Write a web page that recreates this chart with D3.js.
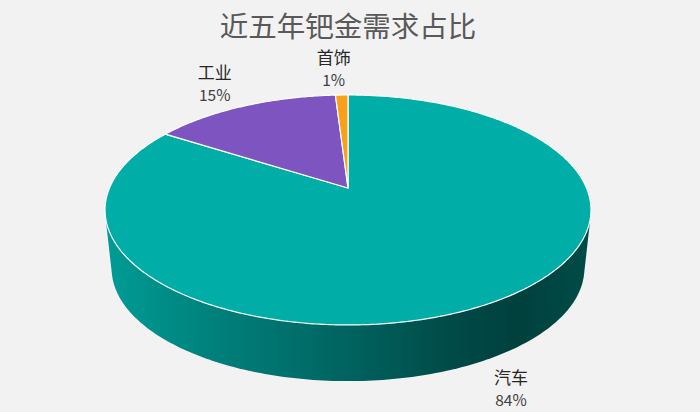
<!DOCTYPE html>
<html>
<head>
<meta charset="utf-8">
<script src="https://cdn.jsdelivr.net/npm/d3@7"></script>
<style>
  html, body { margin: 0; padding: 0; background: #f2f2f2; overflow: hidden; }
  svg { display: block; }
  text { font-family: "Noto Sans CJK SC", "Liberation Sans", sans-serif; }
</style>
</head>
<body>
<div id="chart"></div>
<script>
const chartTitle = '近五年钯金需求占比';
const categories = ['汽车', '工业', '首饰'];
const shares = [84, 15, 1];
const sliceColors = ['#00ada7', '#7e55c0', '#f9a01b'];

const width = 700, height = 412;

const svg = d3.select('#chart')
    .append('svg')
    .attr('width', width)
    .attr('height', height);

// Tilted disc: circle angle -> screen point, far side is foreshortened
const tilt = 0.191;
const centerX = 348, centerY = 188;
function project(angle, ox, oy, sx, sy) {
    const X = Math.sin(angle), Y = -Math.cos(angle);
    const w = 1 - tilt * Y;
    return [ox + sx * X / w, oy + sy * Y / w];
}
const topRim = a => project(a, centerX, centerY, 238.5, 110.8);
const bottomRim = a => project(a, centerX, centerY + 59, 232, 108.5);

const line = d3.line();
const pie = d3.pie().sort(null).value(d => d)(shares);

// Gradient for the side wall, lighter at left and dark towards the right
const wallStops = [
    [0, '#009c96'], [0.2, '#00837e'], [0.5, '#00635f'],
    [0.72, '#004a47'], [0.85, '#00403d'], [1, '#004c48']
];
const grad = svg.append('defs').append('linearGradient')
    .attr('id', 'wall')
    .attr('x1', 0).attr('x2', 1).attr('y1', 0).attr('y2', 0);
grad.selectAll('stop')
    .data(wallStops)
    .enter()
    .append('stop')
    .attr('offset', d => d[0])
    .attr('stop-color', d => d[1]);

// Side wall = hull of both rims, the top surface covers the rest of it
const rimAngles = d3.range(0, 360, 1).map(d => d * Math.PI / 180);
const hull = d3.polygonHull(rimAngles.map(topRim).concat(rimAngles.map(bottomRim)));
svg.append('path')
    .attr('d', line(hull) + 'Z')
    .attr('fill', 'url(#wall)');

// Top slices
svg.selectAll('path.slice')
    .data(pie)
    .enter()
    .append('path')
    .attr('class', 'slice')
    .attr('d', d => {
        const steps = Math.max(4, Math.ceil((d.endAngle - d.startAngle) * 90));
        const angles = d3.range(steps + 1)
            .map(i => d.startAngle + (d.endAngle - d.startAngle) * i / steps);
        return line([[centerX, centerY]].concat(angles.map(topRim))) + 'Z';
    })
    .attr('fill', (d, i) => sliceColors[i])
    .attr('stroke', '#ffffff')
    .attr('stroke-width', 1.2)
    .attr('stroke-linejoin', 'round');

svg.append('text')
    .attr('x', centerX)
    .attr('y', 37)
    .attr('text-anchor', 'middle')
    .attr('font-size', 28.5)
    .attr('fill', '#595959')
    .text(chartTitle);

// Labels sit just outside the rim at each slice's middle angle
const labelNudge = [[25, 79], [-29, -27], [-8, -31]];
const labels = svg.selectAll('g.label')
    .data(pie)
    .enter()
    .append('g')
    .attr('class', 'label')
    .attr('transform', (d, i) => {
        const p = topRim((d.startAngle + d.endAngle) / 2);
        return `translate(${p[0] + labelNudge[i][0]},${p[1] + labelNudge[i][1]})`;
    });
labels.append('text')
    .attr('text-anchor', 'middle')
    .attr('font-size', 17)
    .attr('fill', '#262626')
    .text((d, i) => categories[i]);
labels.append('text')
    .attr('y', 22)
    .attr('text-anchor', 'middle')
    .attr('font-size', 15.5)
    .attr('fill', '#404040')
    .text(d => d.value + '%');
</script>
</body>
</html>
